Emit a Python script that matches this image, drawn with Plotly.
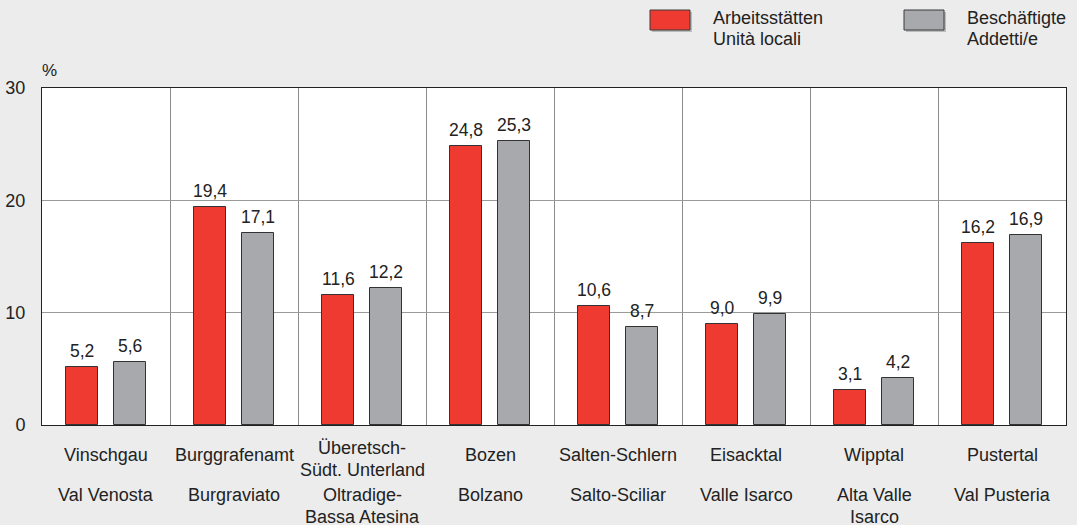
import plotly.graph_objects as go

categories_de = ["Vinschgau", "Burggrafenamt", "Überetsch-<br>Südt. Unterland", "Bozen",
                 "Salten-Schlern", "Eisacktal", "Wipptal", "Pustertal"]
categories_it = ["Val Venosta", "Burgraviato", "Oltradige-<br>Bassa Atesina", "Bolzano",
                 "Salto-Sciliar", "Valle Isarco", "Alta Valle<br>Isarco", "Val Pusteria"]
arbeitsstaetten = [5.2, 19.4, 11.6, 24.8, 10.6, 9.0, 3.1, 16.2]
beschaeftigte = [5.6, 17.1, 12.2, 25.3, 8.7, 9.9, 4.2, 16.9]
legend_labels = ["Arbeitsstätten<br>Unità locali", "Beschäftigte<br>Addetti/e"]
y_ticks = [0, 10, 20, 30]

RED = "#ee3a31"
GREY = "#a7a9ac"
FONT = "Liberation Sans, Arial, sans-serif"
TXT = "#222222"

W, H = 1077, 525
L, R, T, B = 42, 1066, 88, 425

def px(x):
    return (x - L) / (R - L)

def py(y):
    return (B - y) / (B - T)

keys = list(range(len(categories_de)))
BW = 0.25
OFF_RED, OFF_GREY = -0.3125, 0.0625

fig = go.Figure()
fig.add_trace(go.Bar(x=keys, y=arbeitsstaetten, width=BW, offset=OFF_RED,
                     marker=dict(color=RED, line=dict(color="#333333", width=1)),
                     showlegend=False, hoverinfo="skip"))
fig.add_trace(go.Bar(x=keys, y=beschaeftigte, width=BW, offset=OFF_GREY,
                     marker=dict(color=GREY, line=dict(color="#333333", width=1)),
                     showlegend=False, hoverinfo="skip"))

def fmt(v):
    return f"{v:.1f}".replace(".", ",")

annotations = []
for series, off in ((arbeitsstaetten, OFF_RED), (beschaeftigte, OFF_GREY)):
    for k, v in zip(keys, series):
        annotations.append(dict(x=k + off + BW / 2, y=v, xref="x", yref="y", text=fmt(v),
                                showarrow=False, xanchor="center", yanchor="bottom", yshift=4,
                                font=dict(size=17.5, color=TXT, family=FONT)))

LINE = 22
for i, (de, it) in enumerate(zip(categories_de, categories_it)):
    de_lines = de.split("<br>")
    start = 455 if len(de_lines) == 1 else 448
    for j, line in enumerate(de_lines):
        annotations.append(dict(x=i, y=py(start + j * LINE), xref="x", yref="paper", text=line,
                                showarrow=False, yanchor="middle", xanchor="center",
                                font=dict(size=18, color=TXT, family=FONT)))
    for j, line in enumerate(it.split("<br>")):
        annotations.append(dict(x=i, y=py(495 + j * LINE), xref="x", yref="paper", text=line,
                                showarrow=False, yanchor="middle", xanchor="center",
                                font=dict(size=18, color=TXT, family=FONT)))

annotations.append(dict(x=px(49), y=py(71), xref="paper", yref="paper", text="%", showarrow=False,
                        xanchor="center", yanchor="middle",
                        font=dict(size=17, color=TXT, family=FONT)))

# legend (drawn manually)
shapes = []
sw = [(650, RED, legend_labels[0], 711), (904, GREY, legend_labels[1], 965)]
for x0, col, lab, tx in sw:
    shapes.append(dict(type="rect", xref="paper", yref="paper",
                       x0=px(x0 + 2), x1=px(x0 + 42), y0=py(32), y1=py(12),
                       fillcolor="#8a8a8a", line=dict(width=0), opacity=0.5))
    shapes.append(dict(type="rect", xref="paper", yref="paper",
                       x0=px(x0), x1=px(x0 + 40), y0=py(30), y1=py(10),
                       fillcolor=col, line=dict(color="#3a3a3a", width=1)))
    for j, line in enumerate(lab.split("<br>")):
        annotations.append(dict(x=px(tx), y=py(18 + j * 21), xref="paper", yref="paper", text=line,
                                showarrow=False, xanchor="left", yanchor="middle", align="left",
                                font=dict(size=18, color=TXT, family=FONT)))

fig.update_layout(
    width=W, height=H,
    margin=dict(l=L, r=W - R, t=T, b=H - B, autoexpand=False),
    paper_bgcolor="#ececec", plot_bgcolor="#ffffff",
    bargap=0, barmode="overlay",
    annotations=annotations, shapes=shapes,
    font=dict(family=FONT, size=18, color=TXT),
)
fig.update_xaxes(range=[-0.5, len(keys) - 0.5], tickvals=[k + 0.5 for k in keys[:-1]],
                 showticklabels=False, showgrid=True, gridcolor="#8c8c8c", gridwidth=1,
                 showline=True, linecolor="#222222", linewidth=1, mirror=True, zeroline=False,
                 ticks="", automargin=False)
fig.update_yaxes(range=[0, 30], tickvals=y_ticks, showgrid=True, gridcolor="#9a9a9a",
                 gridwidth=1, showline=True, linecolor="#222222", linewidth=1, mirror=True,
                 zeroline=False, ticks="", ticklabelstandoff=12, automargin=False,
                 tickfont=dict(size=18, color=TXT, family=FONT))

fig.write_html("out.html", config={"displayModeBar": False})

with open("out.html", "r", encoding="utf-8") as f:
    html = f.read()
html = html.replace("<body>", '<body style="margin:0;padding:0;background:#ececec;overflow:hidden">', 1)
with open("out.html", "w", encoding="utf-8") as f:
    f.write(html)
